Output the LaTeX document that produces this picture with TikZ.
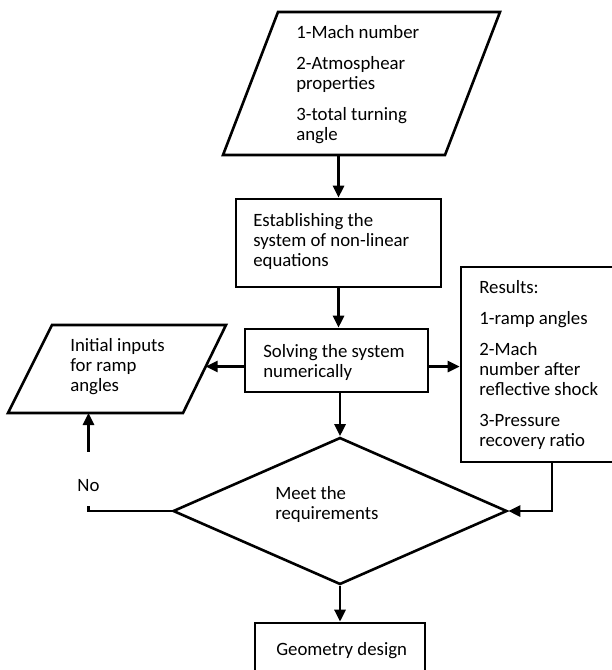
\documentclass[tikz,border=0pt]{standalone}
\usepackage{fontspec}
\setmainfont{Carlito}
\usetikzlibrary{shapes.geometric,arrows.meta}
\newcommand\txtlines[1]{\vtop{\baselineskip=20pt\lineskiplimit=-20pt\lineskip=0pt\halign{##\hfil\cr#1\crcr}}}
\newcommand\pgap{\noalign{\vskip 11pt}}
\begin{document}
\begin{tikzpicture}[x=1pt,y=-1pt, line width=2.6pt,
  box/.style={draw, rectangle, inner sep=0pt},
  dec/.style={draw, diamond, inner sep=0pt},
  lbl/.style={anchor=base west, inner sep=0pt, font=\fontsize{18.8}{20}\selectfont},
  arr/.style={-{Triangle[length=12pt,width=11pt]}},
  ]
\useasboundingbox (0,0) rectangle (612,670);
\clip (0,0) rectangle (612,670);
\fill[white] (0,0) rectangle (612,670);
% parallelograms (drawn directly)
\draw (223,155) -- (445,155) -- (500,12) -- (278,12) -- cycle;
\coordinate (inpS) at (338.5,155);
\draw (8,413) -- (183,413) -- (226,325) -- (52,325) -- cycle;
\coordinate (initE) at (205.7,366.5);
\coordinate (initS) at (88.5,413);
% boxes
\node[box, minimum width=205pt, minimum height=88pt] (est) at (338.5,243) {};
\node[box, minimum width=183pt, minimum height=63pt] (solve) at (336.5,360.5) {};
\node[box, minimum width=182pt, minimum height=195pt] (res) at (552,364.5) {};
\node[dec, minimum width=334pt, minimum height=147pt] (meet) at (340,511) {};
\node[box, minimum width=170pt, minimum height=67pt] (geo) at (340,656.5) {};
% texts
\node[lbl] (tinp) at (295,38) {\txtlines{1-Mach number\cr\pgap 2-Atmosphear\cr properties\cr\pgap 3-total turning\cr angle}};
\node[lbl] (test) at (252,226) {\txtlines{Establishing the\cr system of non-linear\cr equations}};
\node[lbl] (tsolve) at (262,357) {\txtlines{Solving the system\cr numerically}};
\node[lbl] (tinit) at (69,351) {\txtlines{Initial inputs\cr for ramp\cr angles}};
\node[lbl] (tres) at (478,293) {\txtlines{Results:\cr\pgap 1-ramp angles\cr\pgap 2-Mach\cr number after\cr reflective shock\cr\pgap 3-Pressure\cr recovery ratio}};
\node[lbl] (tmeet) at (274,499) {\txtlines{Meet the\cr requirements}};
\node[lbl] (tgeo) at (275,655) {Geometry design};
\node[lbl, anchor=base] (no) at (88.5,491) {No};
% connectors
\draw[arr] (inpS -| est.north) -- (est.north);
\draw[arr] (est.south) -- (est.south |- solve.north);
\draw[arr] ([yshift=-6pt]solve.west) -- (initE);
\draw[arr] ([yshift=-6pt]solve.east) -- ([yshift=-6pt]solve.east -| res.west);
\draw[arr] (solve.south -| meet.north) -- (meet.north);
\draw[arr] (res.south) |- (meet.east);
\draw[arr] (meet.south) -- (meet.south |- geo.north);
\draw (meet.west) -| ([yshift=-14pt]no.south);
\draw[arr] ([yshift=26pt]no.north) -- (no.north |- initS);
\end{tikzpicture}
\end{document}
